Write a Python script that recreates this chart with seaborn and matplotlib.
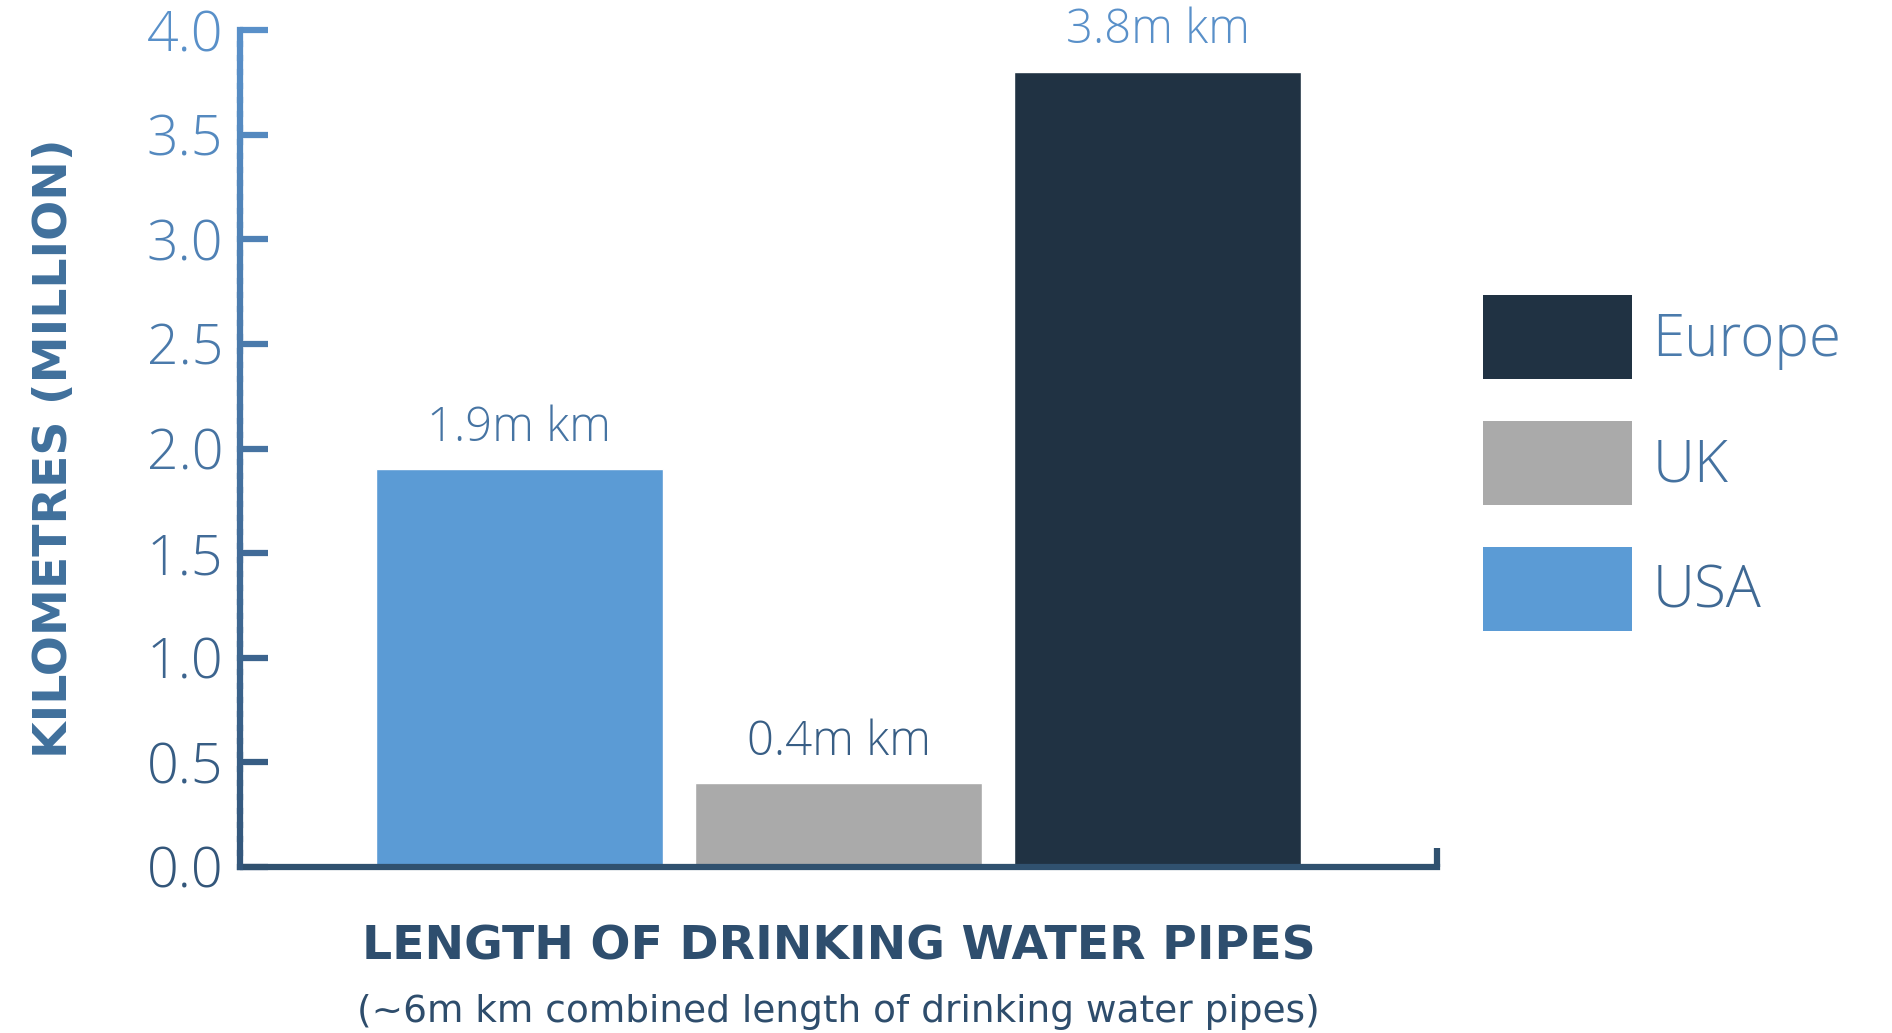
import matplotlib
matplotlib.use("Agg")
import matplotlib.pyplot as plt
import numpy as np
import pandas as pd
import seaborn as sns
from matplotlib.patches import Patch
from matplotlib.collections import LineCollection

# ---------------- data ----------------
regions = ["USA", "UK", "Europe"]
lengths_million_km = [1.9, 0.4, 3.8]
legend_order = ["Europe", "UK", "USA"]
bar_colors = ["#5b9bd5", "#aaaaaa", "#203243"]
y_ticks = [0.0, 0.5, 1.0, 1.5, 2.0, 2.5, 3.0, 3.5, 4.0]
y_label = "KILOMETRES (MILLION)"
x_label = "LENGTH OF DRINKING WATER PIPES"
subtitle = "(~6m km combined length of drinking water pipes)"

# ---------------- style ----------------
sns.set_theme(style="white")
plt.rcParams["font.family"] = ["DejaVu Sans"]
LIGHT = ["Open Sans", "Lato", "Roboto", "DejaVu Sans"]
BOLD = ["DejaVu Sans"]

W, H = 1892, 1033
TOP_C = np.array([0x5a, 0x92, 0xcc]) / 255
BOT_C = np.array([0x2b, 0x4a, 0x6a]) / 255


def grad(ypix):
    t = min(max(ypix / H, 0), 1)
    return tuple(TOP_C * (1 - t) + BOT_C * t)


palette = dict(zip(regions, bar_colors))
df = pd.DataFrame({"region": regions, "length": lengths_million_km})

fig = plt.figure(figsize=(W / 100, H / 100), dpi=100)
ax_l, ax_r, ax_t, ax_b = 240, 1437, 30, 867
ax = fig.add_axes([ax_l / W, 1 - ax_b / H, (ax_r - ax_l) / W, (ax_b - ax_t) / H])

sns.barplot(data=df, x="region", y="length", hue="region", palette=palette,
            order=regions, hue_order=regions, width=0.9, dodge=False,
            saturation=1, errorbar=None, legend=False, ax=ax)

ax.set_xlim(-0.875, 2.875)
ax.set_ylim(0, 4.0)
ax.set_yticks(y_ticks)
ax.set_yticklabels([f"{v:.1f}" for v in y_ticks])

# spines
for s in ["top", "right", "left"]:
    ax.spines[s].set_visible(False)
ax.spines["bottom"].set_color("#30516f")
ax.spines["bottom"].set_linewidth(4.5)
ax.spines["bottom"].set_capstyle("projecting")

# gradient left spine
n = 60
ts = np.linspace(0, 1, n + 1)
segs = [[(0, ts[i]), (0, ts[i + 1])] for i in range(n)]
cols = [grad(ax_b - (ts[i] + ts[i + 1]) / 2 * (ax_b - ax_t)) for i in range(n)]
lc = LineCollection(segs, colors=cols, linewidths=4.5, transform=ax.transAxes,
                    clip_on=False, capstyle="projecting", zorder=5)
ax.add_collection(lc)

# ticks
ax.tick_params(axis="y", direction="in", length=20, width=4.5, pad=12,
               labelsize=40, left=True)
for tk, v in zip(ax.yaxis.get_major_ticks(), y_ticks):
    ypix = ax_b - v / 4.0 * (ax_b - ax_t)
    c = grad(ypix)
    tk.tick1line.set_markeredgecolor(c)
    tk.tick1line.set_color(c)
    tk.label1.set_color(c)
    tk.label1.set_fontfamily(LIGHT)
    tk.label1.set_fontweight("light")

ax.tick_params(axis="x", which="major", length=0, labelbottom=False)
ax.set_xticks([2.875], minor=True)
ax.tick_params(axis="x", which="minor", direction="in", length=14, width=4.5,
               color="#30516f", bottom=True)

# bar labels
for cont, v in zip(ax.containers, lengths_million_km):
    ypix = ax_b - v / 4.0 * (ax_b - ax_t) - 40
    txts = ax.bar_label(cont, labels=[f"{v:.1f}m km"], padding=12, fontsize=34,
                        color=grad(ypix), clip_on=False)
    for t in txts:
        t.set_fontfamily(LIGHT)
        t.set_fontweight("light")

# axis labels
ax.set_ylabel(y_label, fontsize=34, fontweight="bold", color="#40709c",
              family=BOLD)
ax.yaxis.set_label_coords((67 - ax_l) / (ax_r - ax_l), 0.5)
ax.yaxis.label.set_va("baseline")

ax.set_xlabel(x_label, fontsize=34, fontweight="bold", color="#2e4e6e",
              family=BOLD)
ax.xaxis.set_label_coords(0.5, (ax_b - 959) / (ax_b - ax_t))
ax.xaxis.label.set_va("baseline")

ax.text(0.5, (ax_b - 1022) / (ax_b - ax_t), subtitle, transform=ax.transAxes,
        ha="center", va="baseline", fontsize=27, color="#2e4d6c", family=BOLD)

# legend
handles = [Patch(facecolor=palette[r], edgecolor="none", linewidth=0, label=r)
           for r in legend_order]
leg = fig.legend(handles=handles, loc="upper left",
                 bbox_to_anchor=(1483 / W, 1 - 295 / H), frameon=False,
                 prop={"family": LIGHT, "weight": "light", "size": 42},
                 handlelength=2.55, handleheight=1.84, labelspacing=0.72,
                 handletextpad=0.35, borderpad=0, borderaxespad=0)
for t, yc in zip(leg.get_texts(), [337, 462, 588]):
    t.set_color(grad(yc))

fig.savefig("out.png", dpi=100)
